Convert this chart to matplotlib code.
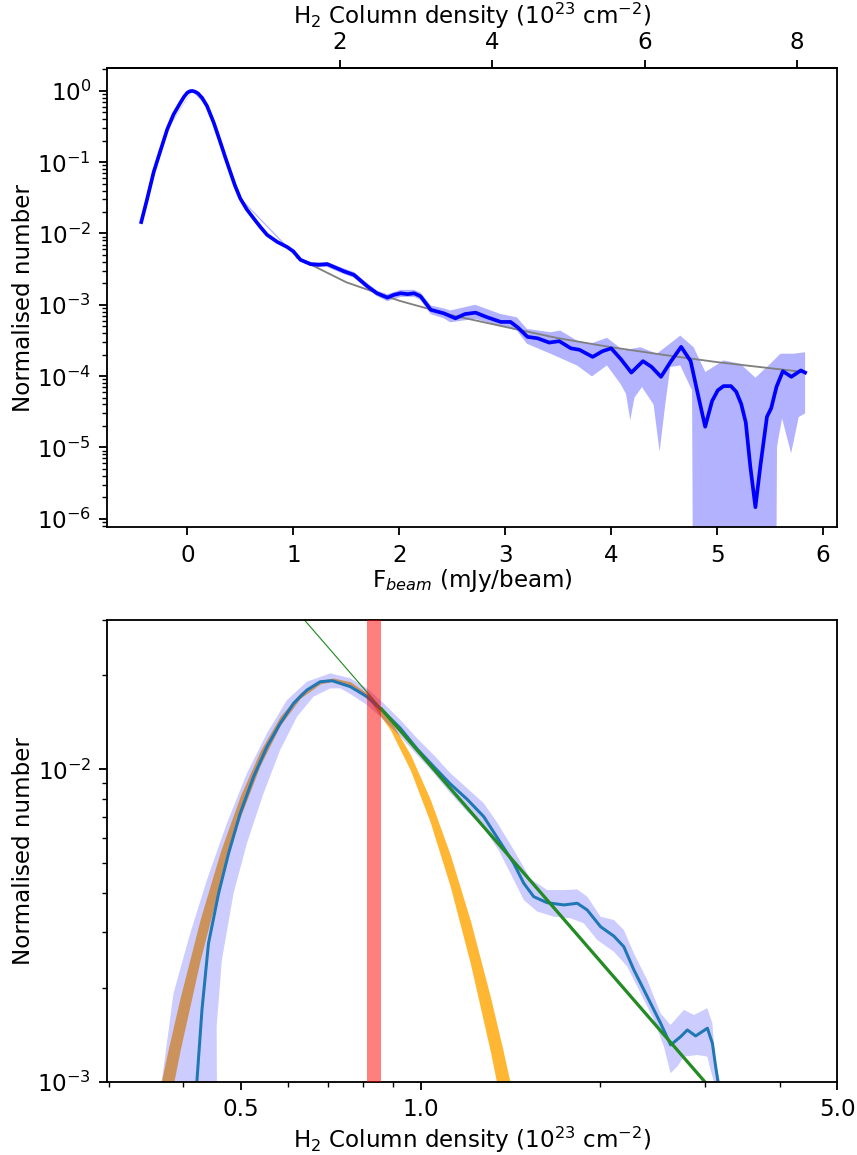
import numpy as np
import matplotlib
matplotlib.use('Agg')
import matplotlib.pyplot as plt
from matplotlib.ticker import FixedLocator, FormatStrFormatter, NullFormatter

# --- top panel: flux distribution (F_beam in mJy/beam) ---
f_beam = [-0.435, -0.38, -0.318, -0.25, -0.19, -0.13, -0.066, -0.03, 0.0, 0.02, 0.044, 0.07,
          0.10, 0.14, 0.186, 0.25, 0.312, 0.36, 0.406, 0.45, 0.50, 0.56, 0.627, 0.69, 0.753,
          0.85, 0.942, 1.0, 1.068, 1.163, 1.24, 1.32, 1.40, 1.477, 1.572, 1.698, 1.79, 1.888,
          1.95, 2.013, 2.08, 2.14, 2.20, 2.297, 2.42, 2.53, 2.62, 2.72, 2.82, 2.958, 3.05,
          3.12, 3.21, 3.305, 3.415, 3.51, 3.62, 3.70, 3.825, 3.92, 4.0, 4.09, 4.19, 4.30,
          4.38, 4.47, 4.56, 4.66, 4.75, 4.81, 4.887, 4.952, 5.006, 5.06, 5.13, 5.18, 5.227,
          5.27, 5.313, 5.361, 5.407, 5.47, 5.51, 5.56, 5.62, 5.70, 5.79, 5.83]
norm_top = [1.445e-2, 3.02e-2, 7.24e-2, 0.1514, 0.288, 0.468, 0.681, 0.832, 0.944, 0.982, 1.0,
            0.977, 0.923, 0.794, 0.612, 0.355, 0.189, 0.1148, 7.24e-2, 4.68e-2, 3.09e-2,
            2.19e-2, 1.62e-2, 1.23e-2, 9.55e-3, 7.59e-3, 6.46e-3, 5.62e-3, 4.27e-3, 3.72e-3,
            3.63e-3, 3.72e-3, 3.31e-3, 2.95e-3, 2.63e-3, 1.82e-3, 1.45e-3, 1.26e-3, 1.38e-3,
            1.45e-3, 1.41e-3, 1.45e-3, 1.32e-3, 8.51e-4, 7.59e-4, 6.46e-4, 7.41e-4, 7.76e-4,
            6.76e-4, 5.75e-4, 5.75e-4, 4.79e-4, 3.55e-4, 3.39e-4, 2.95e-4, 3.09e-4, 2.45e-4,
            2.34e-4, 1.86e-4, 2.24e-4, 2.45e-4, 1.74e-4, 1.12e-4, 1.62e-4, 1.35e-4, 9.77e-5,
            1.58e-4, 2.57e-4, 1.62e-4, 6.31e-5, 1.95e-5, 4.47e-5, 6.31e-5, 7.24e-5, 7.24e-5,
            6.03e-5, 4.07e-5, 2.24e-5, 5.37e-6, 1.45e-6, 5.37e-6, 2.69e-5, 3.55e-5, 7.08e-5,
            1.17e-4, 9.77e-5, 1.20e-4, 1.12e-4]

# uncertainty band, upper and lower edges
band_up_f = [-0.435, -0.19, 0.044, 0.186, 0.50, 0.942, 1.068, 1.163, 1.32, 1.477, 1.572, 1.698,
             1.79, 1.888, 2.013, 2.14, 2.20, 2.297, 2.42, 2.481, 2.717, 2.953, 3.11, 3.205,
             3.427, 3.519, 3.677, 3.803, 3.960, 4.117, 4.275, 4.432, 4.652, 4.778, 4.889,
             5.061, 5.219, 5.361, 5.502, 5.597, 5.722, 5.83]
band_up = [1.479e-2, 0.295, 1.012, 0.624, 3.16e-2, 6.68e-3, 4.52e-3, 3.98e-3, 3.98e-3, 3.24e-3,
           2.88e-3, 2.00e-3, 1.58e-3, 1.41e-3, 1.62e-3, 1.62e-3, 1.48e-3, 9.77e-4, 8.91e-4,
           8.32e-4, 1.0e-3, 7.45e-4, 6.67e-4, 4.59e-4, 4.12e-4, 4.35e-4, 3.15e-4, 2.84e-4,
           3.44e-4, 2.29e-4, 2.54e-4, 2.06e-4, 3.70e-4, 2.54e-4, 1.14e-4, 1.66e-4, 1.49e-4,
           9.5e-5, 1.49e-4, 2.06e-4, 2.06e-4, 2.16e-4]
band_lo_f = [-0.435, -0.19, 0.044, 0.186, 0.50, 0.942, 1.068, 1.163, 1.32, 1.477, 1.572, 1.698,
             1.79, 1.888, 2.013, 2.14, 2.20, 2.297, 2.42, 2.481, 2.717, 2.953, 3.11, 3.205,
             3.427, 3.677, 3.818, 3.960, 4.086, 4.14, 4.180, 4.22, 4.291, 4.40, 4.457, 4.51,
             4.558, 4.652, 4.763, 4.778, 5.549, 5.565, 5.581, 5.613, 5.698, 5.770, 5.83]
band_lo = [1.413e-2, 0.282, 0.989, 0.603, 3.02e-2, 6.24e-3, 4.03e-3, 3.47e-3, 3.39e-3, 2.69e-3,
           2.40e-3, 1.66e-3, 1.32e-3, 1.12e-3, 1.29e-3, 1.29e-3, 1.17e-3, 7.41e-4, 6.46e-4,
           5.68e-4, 6.34e-4, 5.11e-4, 4.35e-4, 2.84e-4, 2.06e-4, 1.41e-4, 9.9e-5, 1.41e-4,
           7.83e-5, 5.62e-5, 2.40e-5, 5.01e-5, 7.01e-5, 3.98e-5, 8.69e-6, 3.98e-5, 1.34e-4,
           1.41e-4, 6.31e-5, 1e-9, 1e-9, 1.0e-5, 1.41e-5, 2.54e-5, 8.24e-6, 2.67e-5, 2.99e-5]

# power-law fit to the tail
pl_f = [1.033, 1.5, 2.0, 2.5, 3.0, 3.5, 4.0, 4.5, 5.0, 5.5, 5.823]
pl_top = [4.59e-3, 2.07e-3, 1.14e-3, 7.1e-4, 4.9e-4, 3.4e-4, 2.54e-4, 1.98e-4, 1.57e-4,
          1.29e-4, 1.14e-4]

col_per_flux = 1.39   # 10^23 cm^-2 per mJy/beam
top_ticks = [2, 4, 6, 8]

# --- bottom panel: column density PDF (10^23 cm^-2) ---
col = [0.4198, 0.4219, 0.4301, 0.4411, 0.4586, 0.4767, 0.4984, 0.5250, 0.5529, 0.5819,
       0.6126, 0.6451, 0.6792, 0.7107, 0.7629, 0.8136, 0.8673, 0.9253, 0.9869, 1.0524,
       1.1225, 1.1972, 1.2765, 1.3440, 1.4332, 1.4897, 1.5481, 1.6305, 1.7390, 1.8314,
       1.9032, 2.0040, 2.1095, 2.1922, 2.2788, 2.3998, 2.5264, 2.6263, 2.7300, 2.8014,
       2.8924, 3.0264, 3.0856, 3.1248, 3.1530, 3.1858]
pdf = [8.7e-4, 1.01e-3, 1.696e-3, 2.77e-3, 4.00e-3, 5.38e-3, 7.21e-3, 9.45e-3, 1.179e-2,
       1.400e-2, 1.622e-2, 1.789e-2, 1.902e-2, 1.916e-2, 1.833e-2, 1.703e-2, 1.525e-2,
       1.349e-2, 1.159e-2, 1.017e-2, 8.95e-3, 8.0e-3, 7.04e-3, 6.04e-3, 4.99e-3, 4.31e-3,
       3.905e-3, 3.735e-3, 3.674e-3, 3.72e-3, 3.54e-3, 3.13e-3, 2.92e-3, 2.70e-3, 2.277e-3,
       1.870e-3, 1.537e-3, 1.310e-3, 1.393e-3, 1.463e-3, 1.400e-3, 1.482e-3, 1.327e-3,
       1.117e-3, 1.0e-3, 8.74e-4]

pdf_up_col = [0.3633, 0.3686, 0.3854, 0.4111, 0.4384, 0.4735, 0.5117, 0.5528, 0.5973, 0.6451,
              0.7061, 0.7628, 0.8135, 0.8673, 0.9253, 0.9869, 1.0523, 1.1224, 1.1972, 1.2764,
              1.3459, 1.4332, 1.5292, 1.6306, 1.7391, 1.8314, 1.9036, 2.0037, 2.1093, 2.1925,
              2.2788, 2.3999, 2.5264, 2.6261, 2.7644, 2.8734, 3.0259, 3.0850, 3.1245, 3.1768,
              3.1977]
pdf_up = [8.12e-4, 1.012e-3, 1.918e-3, 2.982e-3, 4.416e-3, 6.70e-3, 9.69e-3, 1.301e-2, 1.662e-2,
          1.902e-2, 2.023e-2, 1.950e-2, 1.811e-2, 1.622e-2, 1.435e-2, 1.253e-2, 1.109e-2,
          9.69e-3, 8.68e-3, 7.77e-3, 6.72e-3, 5.51e-3, 4.45e-3, 4.10e-3, 4.10e-3, 4.12e-3,
          3.905e-3, 3.37e-3, 3.29e-3, 3.055e-3, 2.574e-3, 2.114e-3, 1.655e-3, 1.518e-3,
          1.696e-3, 1.634e-3, 1.717e-3, 1.537e-3, 1.145e-3, 1.0e-3, 8.74e-4]
pdf_lo_col = [0.4557, 0.4556, 0.4552, 0.4645, 0.4859, 0.5117, 0.5456, 0.5818, 0.6208, 0.6617,
              0.7061, 0.7338, 0.7628, 0.8135, 0.8673, 0.9253, 0.9869, 1.0523, 1.1224, 1.1972,
              1.2764, 1.3511, 1.4332, 1.4897, 1.5692, 1.6727, 1.7846, 1.8782, 1.9783, 2.1093,
              2.2216, 2.3385, 2.4618, 2.5588, 2.6261, 2.6948, 2.7644, 2.9113, 3.0259, 3.0644,
              3.1037, 3.1122]
pdf_lo = [8.12e-4, 1.012e-3, 1.500e-3, 2.449e-3, 4.00e-3, 5.79e-3, 8.36e-3, 1.150e-2, 1.470e-2,
          1.703e-2, 1.811e-2, 1.811e-2, 1.737e-2, 1.602e-2, 1.435e-2, 1.268e-2, 1.109e-2,
          9.69e-3, 8.36e-3, 7.30e-3, 6.46e-3, 5.51e-3, 4.42e-3, 3.81e-3, 3.50e-3, 3.37e-3,
          3.33e-3, 3.21e-3, 2.838e-3, 2.604e-3, 2.332e-3, 1.918e-3, 1.576e-3, 1.294e-3,
          1.064e-3, 1.117e-3, 1.202e-3, 1.217e-3, 1.202e-3, 1.090e-3, 1.0e-3, 8.74e-4]

# log-normal fit (band between the two edges)
ln_col = [0.3662, 0.3765, 0.3955, 0.4272, 0.4615, 0.4987, 0.5387, 0.5818, 0.6286, 0.6792,
          0.7143, 0.7628, 0.8240, 0.8900, 0.9617, 1.0389, 1.1224, 1.2126, 1.3098, 1.3757, 1.4425]
ln_hi = [9.66e-4, 1.239e-3, 1.862e-3, 3.304e-3, 5.42e-3, 8.20e-3, 1.143e-2, 1.474e-2, 1.754e-2,
         1.923e-2, 1.954e-2, 1.901e-2, 1.718e-2, 1.435e-2, 1.112e-2, 7.98e-3, 5.30e-3, 3.27e-3,
         1.866e-3, 1.256e-3, 8.32e-4]
ln_lo = [5.93e-4, 7.89e-4, 1.265e-3, 2.449e-3, 4.345e-3, 7.02e-3, 1.028e-2, 1.378e-2, 1.683e-2,
         1.871e-2, 1.910e-2, 1.849e-2, 1.641e-2, 1.334e-2, 9.91e-3, 6.73e-3, 4.19e-3, 2.38e-3,
         1.245e-3, 7.85e-4, 4.85e-4]

# power-law tail fit
pl_col_all = [0.62, 2.995]
pl_all = [3.20e-2, 1.0e-3]
pl_col_fit = [0.86, 2.995]
pl_fit = [1.556e-2, 1.0e-3]

threshold = [0.813, 0.860]

col_label = r'H$_2$ Column density (10$^{23}$ cm$^{-2}$)'

DPI = 166
fig = plt.figure(figsize=(857.4 / DPI, 1155.4 / DPI), dpi=DPI)

# --- top panel ---
ax1 = fig.add_axes([0.1252, 0.5435, 0.8515, 0.3970])
ax1.fill(np.r_[band_up_f, band_lo_f[::-1]], np.r_[band_up, band_lo[::-1]],
         color='blue', alpha=0.3, lw=0)
ax1.plot(pl_f, pl_top, color='gray', lw=0.8)
ax1.plot(f_beam, norm_top, color='blue', lw=1.6)
ax1.set_yscale('log')
ax1.set_xlim(-0.755, 6.135)
ax1.set_ylim(10 ** -6.117, 10 ** 0.316)
ax1.set_xlabel(r'F$_{beam}$ (mJy/beam)', labelpad=0)
ax1.set_ylabel('Normalised number', labelpad=1)

sec = ax1.secondary_xaxis('top', functions=(lambda f: f * col_per_flux,
                                            lambda n: n / col_per_flux))
sec.set_xticks(top_ticks)
sec.tick_params(pad=3)
sec.set_xlabel(col_label, labelpad=3)

# --- bottom panel ---
ax2 = fig.add_axes([0.1252, 0.0635, 0.8515, 0.3997])
ax2.fill_between(ln_col, ln_lo, ln_hi, color='orange', alpha=0.8, lw=0)
ax2.fill(np.r_[pdf_up_col, pdf_lo_col[::-1]], np.r_[pdf_up, pdf_lo[::-1]],
         color='blue', alpha=0.2, lw=0)
ax2.plot(col, pdf, color='tab:blue', lw=1.3)
ax2.plot(pl_col_all, pl_all, color='forestgreen', lw=0.5)
ax2.plot(pl_col_fit, pl_fit, color='forestgreen', lw=1.4)
ax2.axvspan(threshold[0], threshold[1], color='red', alpha=0.5, lw=0, zorder=5)
ax2.set_xscale('log')
ax2.set_yscale('log')
ax2.set_xlim(0.2985, 5.0)
ax2.set_ylim(1e-3, 3e-2)
ax2.xaxis.set_major_locator(FixedLocator([0.5, 1.0, 5.0]))
ax2.xaxis.set_major_formatter(FormatStrFormatter('%.1f'))
ax2.xaxis.set_minor_formatter(NullFormatter())
ax2.yaxis.set_minor_formatter(NullFormatter())
ax2.set_xlabel(col_label, labelpad=1.5)
ax2.set_ylabel('Normalised number', labelpad=1)

fig.savefig('out.png', dpi=DPI)
